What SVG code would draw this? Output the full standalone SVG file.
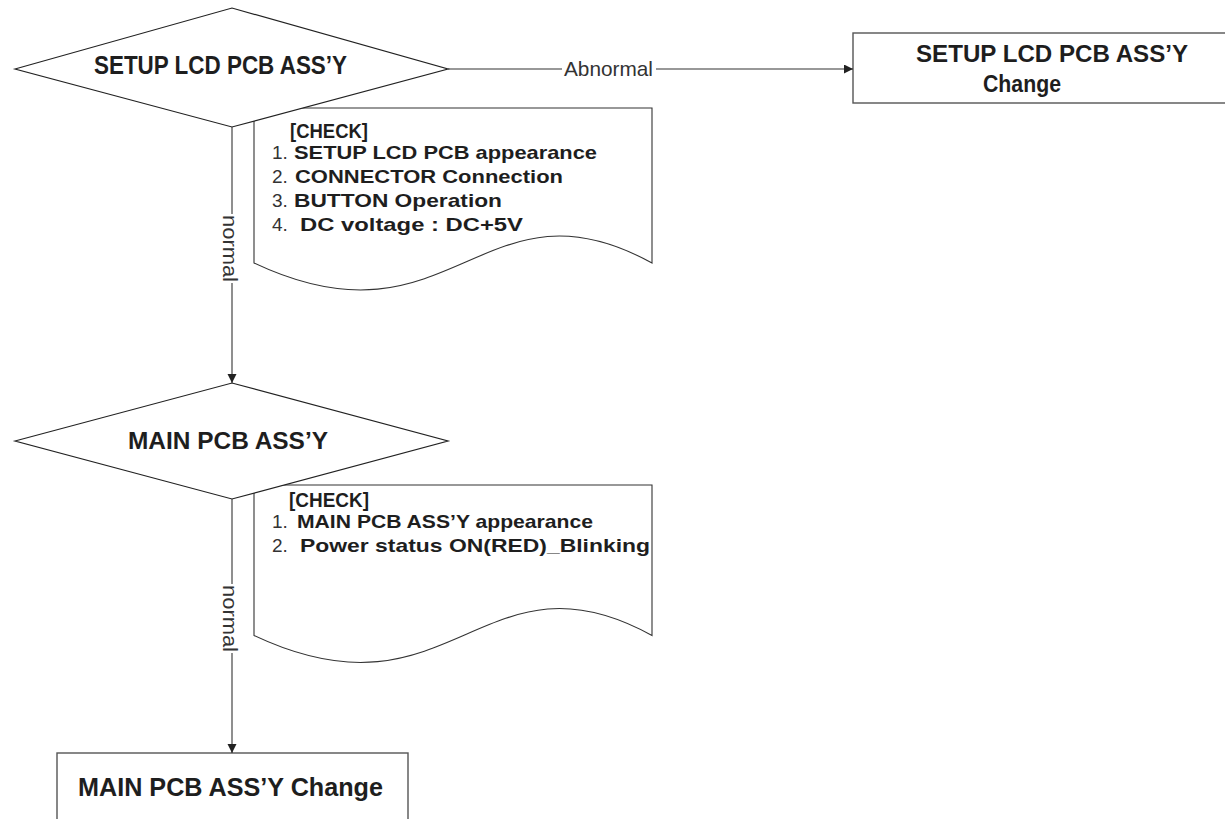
<svg xmlns="http://www.w3.org/2000/svg" width="1225" height="819" viewBox="0 0 1225 819">
<style>
.shape{fill:#fff;stroke:#222;stroke-width:1.2}
.box{fill:#fff;stroke:#555;stroke-width:1.4}
.doc{fill:#fff;stroke:#333;stroke-width:1.1}
.conn{fill:none;stroke:#333;stroke-width:1.1}
.b{font-family:"Liberation Sans",Arial,sans-serif;font-weight:bold;fill:#1e1e1e}
.r{font-family:"Liberation Sans",Arial,sans-serif;font-weight:normal;fill:#333}
.lbl{font-family:"Liberation Sans",Arial,sans-serif;font-size:21px;fill:#333}
</style>
<defs>
<marker id="arr" markerUnits="userSpaceOnUse" markerWidth="10" markerHeight="10" refX="9" refY="4.5" orient="auto">
<path d="M0,0 L9,4.5 L0,9 z" fill="#222"/>
</marker>
</defs>
<rect width="1225" height="819" fill="#fff"/>

<g id="check1">
<path class="doc" d="M254,108 H652 V263 C482,169.5 452,356.5 254,263 Z"/>
<text class="b" x="290" y="138" font-size="20" textLength="78" lengthAdjust="spacingAndGlyphs">[CHECK]</text>
<text y="159" font-size="19"><tspan class="r" x="272">1.</tspan><tspan class="b" x="294" textLength="303" lengthAdjust="spacingAndGlyphs">SETUP LCD PCB appearance</tspan></text>
<text y="183" font-size="19"><tspan class="r" x="272">2.</tspan><tspan class="b" x="295" textLength="268" lengthAdjust="spacingAndGlyphs">CONNECTOR Connection</tspan></text>
<text y="207" font-size="19"><tspan class="r" x="272">3.</tspan><tspan class="b" x="294" textLength="208" lengthAdjust="spacingAndGlyphs">BUTTON Operation</tspan></text>
<text y="231" font-size="19"><tspan class="r" x="272">4.</tspan><tspan class="b" x="300" textLength="223" lengthAdjust="spacingAndGlyphs">DC voltage : DC+5V</tspan></text>
</g>

<g id="check2">
<path class="doc" d="M254,485 H652 V635.5 C482,542 452,729 254,635.5 Z"/>
<text class="b" x="289" y="507" font-size="20" textLength="80" lengthAdjust="spacingAndGlyphs">[CHECK]</text>
<text y="528" font-size="19"><tspan class="r" x="272">1.</tspan><tspan class="b" x="297" textLength="296" lengthAdjust="spacingAndGlyphs">MAIN PCB ASS’Y appearance</tspan></text>
<text y="552" font-size="19"><tspan class="r" x="272">2.</tspan><tspan class="b" x="300" textLength="350" lengthAdjust="spacingAndGlyphs">Power status ON(RED)_Blinking</tspan></text>
</g>

<g id="setup-lcd">
<polygon class="shape" points="15,69 232,8 448,69 232,127"/>
<text class="b" x="94" y="74" font-size="25" textLength="253" lengthAdjust="spacingAndGlyphs">SETUP LCD PCB ASS’Y</text>
</g>

<g id="main-pcb">
<polygon class="shape" points="15,441 232,383 448,441 232,499"/>
<text class="b" x="128" y="449" font-size="24" textLength="200" lengthAdjust="spacingAndGlyphs">MAIN PCB ASS’Y</text>
</g>

<g id="setup-change">
<rect class="box" x="853" y="33" width="390" height="70"/>
<text class="b" x="916" y="62" font-size="23" textLength="272" lengthAdjust="spacingAndGlyphs">SETUP LCD PCB ASS’Y</text>
<text class="b" x="983" y="92" font-size="23" textLength="78" lengthAdjust="spacingAndGlyphs">Change</text>
</g>

<g id="main-change">
<rect class="box" x="57" y="753" width="351" height="100"/>
<text class="b" x="78" y="796" font-size="25" textLength="305" lengthAdjust="spacingAndGlyphs">MAIN PCB ASS’Y Change</text>
</g>

<g id="connectors">
<line class="conn" x1="448" y1="69" x2="562" y2="69"/>
<line class="conn" x1="656" y1="69" x2="853" y2="69" marker-end="url(#arr)"/>
<text class="lbl" x="564" y="76" textLength="89" lengthAdjust="spacingAndGlyphs">Abnormal</text>

<line class="conn" x1="232" y1="127" x2="232" y2="214"/>
<line class="conn" x1="232" y1="283" x2="232" y2="383" marker-end="url(#arr)"/>
<text class="lbl" text-anchor="middle" transform="translate(223,248.5) rotate(90)" textLength="67" lengthAdjust="spacingAndGlyphs">normal</text>

<line class="conn" x1="232" y1="499" x2="232" y2="584"/>
<line class="conn" x1="232" y1="653" x2="232" y2="753" marker-end="url(#arr)"/>
<text class="lbl" text-anchor="middle" transform="translate(223,618.5) rotate(90)" textLength="67" lengthAdjust="spacingAndGlyphs">normal</text>
</g>
</svg>
